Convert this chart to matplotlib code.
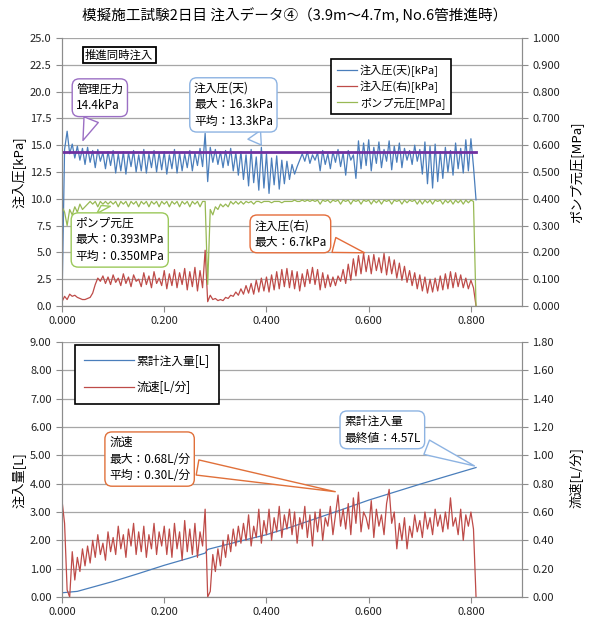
import matplotlib
matplotlib.use("Agg")
import matplotlib.pyplot as plt
from matplotlib.ticker import FormatStrFormatter, MultipleLocator
import numpy as np

plt.rcParams['font.family'] = ['Noto Sans CJK JP', 'DejaVu Sans']

# ---- data ----
# sample positions (m), every 0.005 from 0.000 to 0.810
x = np.round(np.arange(0, 0.8101, 0.005), 3)

# 注入圧(天) kPa
p_top = [0.5, 14.6, 16.3, 14.2, 15.1, 13.8, 14.9, 13.6, 14.7, 13.2,
         14.8, 13.4, 14.5, 12.9, 14.6, 13.5, 14.3, 12.8, 14.4, 13.1,
         14.5, 12.4, 14.2, 12.6, 14.4, 12.3, 14.3, 13.0, 14.5, 12.5,
         14.1, 12.6, 14.6, 12.4, 14.2, 12.9, 14.5, 12.5, 14.3, 12.7,
         14.4, 12.3, 14.1, 12.8, 14.6, 12.4, 14.3, 12.6, 14.2, 12.9,
         14.5, 12.6, 14.3, 13.1, 14.7, 13.0, 16.1, 11.6, 14.8, 13.4,
         14.6, 13.2, 14.4, 12.9, 14.5, 13.1, 14.7, 12.6, 14.3, 12.2,
         14.4, 11.8, 14.1, 11.2, 14.6, 11.5, 13.9, 10.8, 14.8, 11.0,
         14.2, 10.5, 13.8, 11.3, 14.0, 10.9, 13.6, 11.4, 13.5, 11.8,
         13.2, 12.3, 13.0, 13.6, 14.2, 13.5, 14.4, 13.3, 14.1, 13.6,
         14.3, 12.6, 14.5, 13.2, 14.2, 12.8, 14.4, 13.4, 14.6, 13.0,
         14.3, 12.2, 14.5, 13.6, 14.1, 11.9, 15.4, 12.8, 15.2, 13.1,
         15.5, 12.6, 14.8, 13.3, 15.3, 12.9, 14.6, 13.5, 15.4, 12.7,
         14.9, 13.4, 15.2, 12.9, 14.7, 13.6, 14.5, 13.2, 15.0, 13.5,
         14.6, 12.3, 15.3, 11.4, 14.9, 11.0, 15.1, 11.6, 14.4, 11.9,
         14.8, 12.5, 14.5, 12.2, 15.2, 12.8, 14.7, 12.4, 15.5, 12.6,
         15.6, 13.0, 9.9]

# 注入圧(右) kPa
p_right = [0.4, 0.9, 0.6, 1.1, 0.9, 1.0, 0.8, 0.7, 0.6, 0.6,
           0.7, 0.8, 1.2, 2.0, 2.6, 2.3, 2.8, 2.1, 2.7, 2.0,
           2.9, 2.2, 2.6, 1.9, 3.0, 2.1, 2.7, 1.8, 2.9, 2.3,
           2.5, 1.8, 3.1, 2.0, 2.8, 1.7, 3.2, 2.1, 2.6, 1.9,
           3.3, 1.6, 3.0, 1.9, 3.4, 1.7, 3.1, 2.0, 3.5, 1.5,
           3.2, 1.8, 3.6, 1.4, 3.3, 1.7, 5.2, 0.4, 1.0, 0.6,
           0.7, 0.5, 0.6, 0.5, 0.8, 0.7, 1.0, 0.9, 1.3, 1.0,
           1.6, 1.1, 1.9, 1.2, 2.1, 1.1, 2.4, 1.3, 2.6, 1.4,
           2.7, 1.3, 2.9, 1.5, 3.2, 1.6, 3.4, 1.8, 3.5, 1.7,
           3.3, 1.6, 3.2, 1.4, 3.0, 1.8, 3.4, 2.1, 3.6, 2.0,
           3.4, 1.5, 3.1, 1.7, 2.9, 1.8, 2.7, 1.9, 2.8, 2.3,
           3.4, 2.1, 3.9, 2.4, 4.4, 2.8, 4.7, 3.0, 4.9, 3.2,
           4.7, 3.0, 4.8, 3.3, 4.5, 3.1, 4.9, 2.9, 4.6, 3.0,
           4.3, 2.6, 4.0, 2.4, 3.7, 2.2, 3.3, 1.9, 3.1, 1.6,
           2.9, 1.4, 2.7, 1.2, 2.5, 1.3, 2.6, 1.4, 2.8, 1.5,
           3.0, 1.6, 3.2, 1.7, 3.1, 1.8, 2.9, 1.7, 2.6, 1.6,
           2.4, 1.7, 0.0]

# ポンプ元圧 MPa
p_pump = [0.37, 0.35, 0.30, 0.36, 0.34, 0.37, 0.35, 0.38, 0.36, 0.37,
          0.38, 0.39, 0.38, 0.39, 0.37, 0.39, 0.38, 0.39, 0.38, 0.39,
          0.38, 0.39, 0.37, 0.39, 0.38, 0.39, 0.37, 0.39, 0.38, 0.39,
          0.37, 0.39, 0.38, 0.39, 0.37, 0.39, 0.38, 0.39, 0.37, 0.39,
          0.38, 0.39, 0.37, 0.39, 0.38, 0.39, 0.37, 0.39, 0.38, 0.39,
          0.37, 0.39, 0.38, 0.39, 0.37, 0.39, 0.39, 0.08, 0.36, 0.34,
          0.37, 0.36, 0.38, 0.37, 0.38, 0.37, 0.39, 0.38, 0.39, 0.38,
          0.39, 0.38, 0.39, 0.385, 0.39, 0.38, 0.39, 0.39, 0.385, 0.39,
          0.39, 0.39, 0.385, 0.39, 0.39, 0.39, 0.385, 0.39, 0.39, 0.39,
          0.39, 0.395, 0.39, 0.39, 0.395, 0.39, 0.395, 0.39, 0.395, 0.39,
          0.395, 0.38, 0.395, 0.39, 0.395, 0.385, 0.395, 0.39, 0.395, 0.38,
          0.395, 0.39, 0.395, 0.38, 0.395, 0.39, 0.395, 0.38, 0.395, 0.39,
          0.395, 0.38, 0.395, 0.385, 0.395, 0.38, 0.395, 0.39, 0.395, 0.38,
          0.395, 0.39, 0.395, 0.38, 0.395, 0.385, 0.395, 0.39, 0.395, 0.38,
          0.395, 0.38, 0.395, 0.385, 0.395, 0.38, 0.395, 0.39, 0.395, 0.38,
          0.395, 0.385, 0.395, 0.38, 0.395, 0.385, 0.395, 0.38, 0.395, 0.385,
          0.395, 0.39, 0.0]

# 管理圧力 kPa
limit_x = [0.0, 0.81]
limit_p = [14.4, 14.4]

# 流速 L/分
flow = [0.68, 0.52, 0.05, 0.0, 0.32, 0.12, 0.28, 0.18, 0.34, 0.22,
        0.36, 0.24, 0.40, 0.28, 0.44, 0.30, 0.38, 0.26, 0.46, 0.32,
        0.42, 0.30, 0.50, 0.34, 0.44, 0.28, 0.48, 0.36, 0.52, 0.30,
        0.46, 0.32, 0.50, 0.28, 0.44, 0.34, 0.52, 0.30, 0.46, 0.36,
        0.50, 0.30, 0.48, 0.28, 0.52, 0.34, 0.46, 0.26, 0.54, 0.32,
        0.48, 0.30, 0.52, 0.28, 0.46, 0.36, 0.62, 0.0, 0.04, 0.30,
        0.18, 0.34, 0.22, 0.40, 0.28, 0.44, 0.32, 0.48, 0.36, 0.50,
        0.38, 0.52, 0.40, 0.58, 0.36, 0.50, 0.42, 0.62, 0.38, 0.54,
        0.44, 0.62, 0.40, 0.56, 0.46, 0.64, 0.42, 0.58, 0.48, 0.62,
        0.44, 0.60, 0.38, 0.56, 0.48, 0.64, 0.42, 0.58, 0.36, 0.60,
        0.46, 0.62, 0.40, 0.56, 0.50, 0.64, 0.44, 0.58, 0.72, 0.50,
        0.62, 0.48, 0.66, 0.44, 0.70, 0.52, 0.74, 0.46, 0.60, 0.56,
        0.48, 0.68, 0.42, 0.62, 0.50, 0.58, 0.44, 0.66, 0.76, 0.52,
        0.60, 0.34, 0.52, 0.40, 0.56, 0.34, 0.50, 0.42, 0.58, 0.46,
        0.54, 0.42, 0.60, 0.48, 0.56, 0.44, 0.62, 0.50, 0.58, 0.46,
        0.60, 0.48, 0.70, 0.50, 0.56, 0.44, 0.62, 0.40, 0.58, 0.50,
        0.60, 0.48, 0.0]

# 累計注入量 L
vol_x = [0.0, 0.03, 0.05, 0.10, 0.15, 0.20, 0.25, 0.28, 0.285, 0.30,
         0.35, 0.40, 0.45, 0.50, 0.55, 0.60, 0.65, 0.70, 0.75, 0.81]
vol = [0.15, 0.20, 0.30, 0.55, 0.83, 1.12, 1.38, 1.55, 1.68, 1.75,
       1.98, 2.20, 2.48, 2.79, 3.10, 3.42, 3.70, 3.98, 4.25, 4.57]

c_blue = '#4a7ebb'
c_red = '#be4b48'
c_green = '#98b954'
c_purple = '#7030a0'
grid_c = '#a6a6a6'
spine_c = '#8c8c8c'

fig = plt.figure(figsize=(5.89, 6.19), dpi=100)
ax1 = fig.add_axes([0.1053, 0.5057, 0.781, 0.433])
ax1r = ax1.twinx()
ax2 = fig.add_axes([0.1053, 0.0355, 0.781, 0.412])
ax2r = ax2.twinx()


def style(ax, axr):
    for a in (ax, axr):
        a.spines['top'].set_visible(False)
        for s in ('left', 'right', 'bottom'):
            a.spines[s].set_color(spine_c)
        a.tick_params(direction='out', length=4, color=spine_c, labelsize=8,
                      labelcolor='#222222')
    ax.set_xlim(0, 0.9)
    ax.xaxis.set_major_locator(MultipleLocator(0.2))
    ax.xaxis.set_major_formatter(FormatStrFormatter('%.3f'))
    ax.grid(axis='y', color=grid_c, lw=0.9)
    ax.set_axisbelow(True)


# ---- top panel ----
style(ax1, ax1r)
l1, = ax1.plot(x, p_top, color=c_blue, lw=0.9, label='注入圧(天)[kPa]')
l2, = ax1.plot(x, p_right, color=c_red, lw=0.9, label='注入圧(右)[kPa]')
ax1.plot(limit_x, limit_p, color=c_purple, lw=2, zorder=4)
l3, = ax1r.plot(x, p_pump, color=c_green, lw=0.9, label='ポンプ元圧[MPa]')
ax1.set_ylim(0, 25)
ax1.yaxis.set_major_locator(MultipleLocator(2.5))
ax1.yaxis.set_major_formatter(FormatStrFormatter('%.1f'))
ax1r.set_ylim(0, 1.0)
ax1r.yaxis.set_major_locator(MultipleLocator(0.1))
ax1r.yaxis.set_major_formatter(FormatStrFormatter('%.3f'))
leg = ax1r.legend(handles=[l1, l2, l3], loc='upper left',
                  bbox_to_anchor=(0.585, 0.922), fontsize=8, fancybox=False,
                  edgecolor='black', framealpha=1, handlelength=1.8,
                  handletextpad=0.3, labelspacing=0.35, borderpad=0.5,
                  borderaxespad=0)
leg.get_frame().set_linewidth(1.2)

fig.text(0.5, 0.975, '模擬施工試験2日目 注入データ④（3.9m～4.7m, No.6管推進時）',
         ha='center', va='center', fontsize=10.5)


def callout(axr, ax, text, xy, xytext, ec):
    axr.annotate(text, xy=xy, xycoords=ax.transData, xytext=xytext,
                 textcoords=ax.transData, ha='left', va='top', fontsize=8.5,
                 linespacing=1.35,
                 bbox=dict(boxstyle='round,pad=0.35,rounding_size=0.6',
                           fc='white', ec=ec, lw=1.0),
                 arrowprops=dict(arrowstyle='wedge,tail_width=1.3,shrink_factor=0.5',
                                 fc='white', ec=ec, lw=1.0), zorder=10)


ax1r.text(0.045, 23.9, '推進同時注入', transform=ax1.transData, ha='left',
          va='top', fontsize=8.2, zorder=10,
          bbox=dict(boxstyle='square,pad=0.2', fc='white', ec='black', lw=1.3))
callout(ax1r, ax1, '管理圧力\n14.4kPa', (0.039, 15.2), (0.028, 20.8), '#9b6fc4')
callout(ax1r, ax1, '注入圧(天)\n最大：16.3kPa\n平均：13.3kPa', (0.393, 14.8),
        (0.258, 20.9), '#8db3e2')
callout(ax1r, ax1, 'ポンプ元圧\n最大：0.393MPa\n平均：0.350MPa', (0.074, 9.6),
        (0.026, 8.3), '#9bc85a')
callout(ax1r, ax1, '注入圧(右)\n最大：6.7kPa', (0.597, 4.9), (0.376, 8.1),
        '#e46c3a')

fig.text(0.032, 0.722, '注入圧[kPa]', rotation=90, ha='center', va='center',
         fontsize=9.5)
fig.text(0.978, 0.722, 'ポンプ元圧[MPa]', rotation=90, ha='center',
         va='center', fontsize=9.5)

# ---- bottom panel ----
style(ax2, ax2r)
l4, = ax2.plot(vol_x, vol, color=c_blue, lw=0.9, label='累計注入量[L]')
l5, = ax2r.plot(x, flow, color=c_red, lw=0.9, label='流速[L/分]')
ax2.set_ylim(0, 9)
ax2.yaxis.set_major_locator(MultipleLocator(1))
ax2.yaxis.set_major_formatter(FormatStrFormatter('%.2f'))
ax2r.set_ylim(0, 1.8)
ax2r.yaxis.set_major_locator(MultipleLocator(0.2))
ax2r.yaxis.set_major_formatter(FormatStrFormatter('%.2f'))
leg2 = ax2r.legend(handles=[l4, l5], loc='upper left',
                   bbox_to_anchor=(0.028, 0.99), fontsize=8.5, fancybox=False,
                   edgecolor='black', framealpha=1, handlelength=4.2,
                   labelspacing=1.2, borderpad=0.8, handletextpad=0.2,
                   borderaxespad=0)
leg2.get_frame().set_linewidth(1.2)

callout(ax2r, ax2, '流速\n最大：0.68L/分\n平均：0.30L/分', (0.54, 3.7),
        (0.092, 5.68), '#e0703a')
callout(ax2r, ax2, '累計注入量\n最終値：4.57L', (0.812, 4.59), (0.552, 6.42),
        '#8db3e2')

fig.text(0.032, 0.225, '注入量[L]', rotation=90, ha='center', va='center',
         fontsize=9.5)
fig.text(0.978, 0.228, '流速[L/分]', rotation=90, ha='center', va='center',
         fontsize=9.5)

fig.savefig('out.png', dpi=100)
